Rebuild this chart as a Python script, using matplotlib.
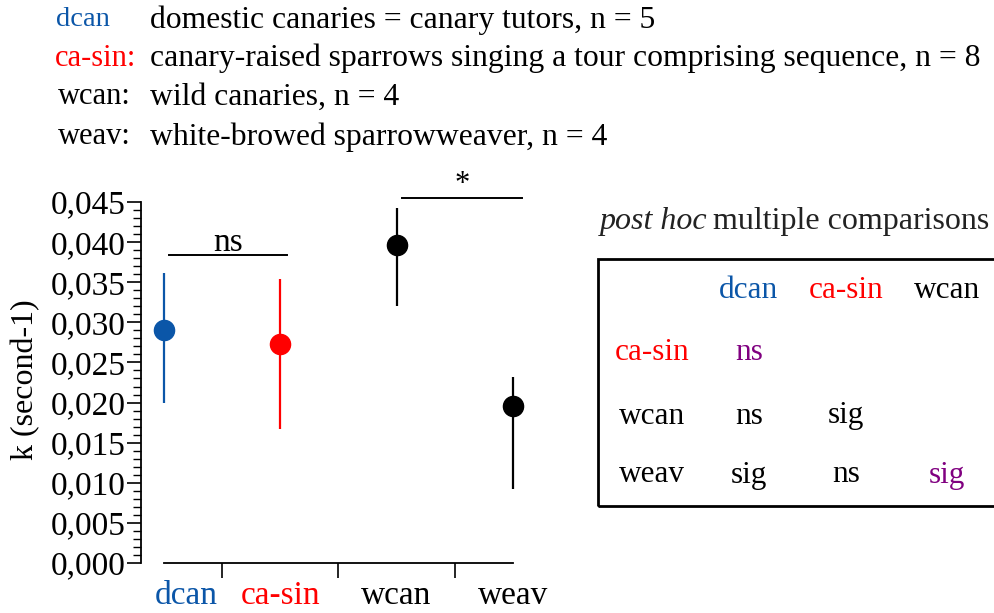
import matplotlib
matplotlib.use("Agg")
import matplotlib.pyplot as plt
import numpy as np
from matplotlib.ticker import FixedLocator, FuncFormatter

plt.rcParams["font.family"] = ["Liberation Serif", "DejaVu Serif"]

BLUE = "#0b56a8"
RED = "#ff0000"
PURPLE = "#800080"

# data
groups = ["dcan", "ca-sin", "wcan", "weav"]
group_colors = [BLUE, RED, "black", "black"]
means = [0.0290, 0.0273, 0.0396, 0.0196]
err_low = [0.0199, 0.0167, 0.0320, 0.0092]
err_high = [0.0362, 0.0354, 0.0442, 0.0232]

legend_keys = ["dcan", "ca-sin:", "wcan:", "weav:"]
legend_texts = [
    "domestic canaries = canary tutors, n = 5",
    "canary-raised sparrows singing a tour comprising sequence, n = 8",
    "wild canaries, n = 4",
    "white-browed sparrowweaver, n = 4",
]

# post hoc table
col_labels = ["dcan", "ca-sin", "wcan"]
row_labels = ["ca-sin", "wcan", "weav"]
cells = [["ns", "", ""], ["ns", "sig", ""], ["sig", "ns", "sig"]]
cell_colors = [[PURPLE, None, None], ["black", "black", None], ["black", "black", PURPLE]]

W, H = 994, 613
fig = plt.figure(figsize=(W / 100, H / 100), dpi=100)

def fx(px):
    return px / W

def fy(py):
    return 1 - py / H

# main axes: y=0 at pixel 563, 0.045 at pixel 202
ymax = 0.048
ppu = (563 - 202) / 0.045
top_px = 563 - ymax * ppu
step = 116.3
left_px = 164 - 0.2 * step
ax = fig.add_axes([fx(left_px), fy(563), 3.5 * step / W, (563 - top_px) / H])
ax.set_xlim(-0.2, 3.3)
ax.set_ylim(0, ymax)

for i, g in enumerate(groups):
    ax.vlines(i, err_low[i], err_high[i], color=group_colors[i], lw=1.6, zorder=2)
    ax.plot(i, means[i], "o", ms=14.5, color=group_colors[i], zorder=3)

for s in ["top", "right"]:
    ax.spines[s].set_visible(False)
ax.spines["left"].set_bounds(0, 0.045)
ax.spines["bottom"].set_bounds(0, 3)
ax.spines["left"].set_linewidth(1.3)
ax.spines["bottom"].set_linewidth(1.3)

major = np.round(np.arange(0, 0.0451, 0.005), 4)
minor = [v for v in np.round(np.arange(0, 0.0451, 0.001), 4) if v not in major]
ax.yaxis.set_major_locator(FixedLocator(major))
ax.yaxis.set_minor_locator(FixedLocator(minor))
ax.yaxis.set_major_formatter(FuncFormatter(lambda v, p: f"{v:.3f}".replace(".", ",")))
ax.tick_params(axis="y", which="major", length=10, width=1.2, labelsize=24, pad=1)
ax.tick_params(axis="y", which="minor", length=6, width=1.0)
ax.set_xticks([0.5, 1.5, 2.5])
ax.set_xticklabels([])
ax.tick_params(axis="x", which="major", length=11, width=1.2)

# category names under the axis (the first one sits a little to the right)
label_shift = [0.19, 0.0, 0.0, 0.0]
for i, g in enumerate(groups):
    ax.text(i + label_shift[i], -(604 - 563) / ppu, g, color=group_colors[i], ha="center",
            va="baseline", fontsize=24)

fig.text(fx(26), fy(380), "k (second-1)", rotation=90, ha="center", va="center",
         fontsize=23)

# significance brackets
ax.plot([0.04, 1.06], [0.0384, 0.0384], color="black", lw=1.4, clip_on=False)
ax.text(0.55, (563 - 243) / ppu, "ns", ha="center", va="center", fontsize=24)
ax.plot([2.05, 3.08], [0.0455, 0.0455], color="black", lw=1.4, clip_on=False)
ax.text(2.56, (563 - 184) / ppu, "*", ha="center", va="center", fontsize=22)

# header legend
rows_y = [20, 58, 97, 137]
keys_x = [56, 55, 58, 58]
key_sizes = [20.5, 22, 22, 22]
for k, t, c, x, y, s in zip(legend_keys, legend_texts, group_colors, keys_x, rows_y, key_sizes):
    fig.text(fx(x), fy(y), k, color=c, ha="left", va="center", fontsize=s)
    fig.text(fx(150), fy(y), t, color="black", ha="left", va="center", fontsize=22.8)

# post hoc title: italic part then regular part right after it
renderer = fig.canvas.get_renderer()
t1 = fig.text(fx(600), fy(221), "post hoc", style="italic", ha="left", va="center",
              fontsize=23, color="#222222")
bb = t1.get_window_extent(renderer)
fig.text(bb.x1 / W + 5 / W, fy(221), "multiple comparisons", ha="left", va="center",
         fontsize=23, color="#222222")
box = plt.Rectangle((fx(598), fy(506)), fx(1000 - 598), (506 - 259) / H,
                    transform=fig.transFigure, fill=False, lw=2, color="black", clip_on=False)
fig.add_artist(box)

col_x = [749, 846, 947]
row_y = [353, 416, 475]
row_colors = [RED, "black", "black"]
for lab, x, c in zip(col_labels, col_x, [BLUE, RED, "black"]):
    fig.text(fx(x), fy(291), lab, color=c, ha="center", va="center", fontsize=22.5)
for lab, y, c in zip(row_labels, row_y, row_colors):
    fig.text(fx(652), fy(y), lab, color=c, ha="center", va="center", fontsize=22.5)
for r in range(3):
    for cidx in range(3):
        if cells[r][cidx]:
            fig.text(fx(col_x[cidx]), fy(row_y[r]), cells[r][cidx], color=cell_colors[r][cidx],
                     ha="center", va="center", fontsize=22.5)

fig.savefig("out.png", dpi=100)
